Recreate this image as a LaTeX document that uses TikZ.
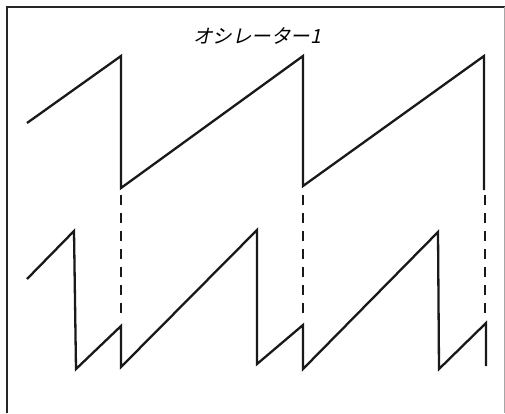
\documentclass[tikz,border=0pt]{standalone}
\usepackage{fontspec}
\newfontfamily\jpfont[FakeSlant=0.22]{Noto Sans CJK JP}
\begin{document}
\begin{tikzpicture}[x=1pt,y=-1pt,
  wave/.style={line width=2.3pt,line join=miter,black!90},
  frameline/.style={line width=2.5pt,black!85},
  guide/.style={line width=2.3pt,black!90,dash pattern=on 10pt off 8pt}]
\useasboundingbox (0,0) rectangle (505,413);
\fill[white] (0,0) rectangle (505,413);
% frame
\draw[frameline] (7,413) -- (7,7) -- (505,7);
\draw[black!35,line width=0.8pt] (504,7) -- (504,413);
% title
\node (title) at (257,36) {\jpfont\fontsize{19.5}{22}\selectfont オシレーター1};
% upper sawtooth
\draw[wave] (27,123) -- (121,56) -- (121,188) -- (303,56) -- (303,186) -- (484,56) -- (484,190);
% lower wave
\draw[wave] (27,279) -- (74,231) -- (76,369) -- (121,326) -- (121,367)
  -- (257,230) -- (257,364) -- (303,325) -- (303,369) -- (438,232)
  -- (439,369) -- (486,323) -- (486,366);
% dashed guides
\draw[guide] (121,195) -- (121,320);
\draw[guide] (303,195) -- (303,320);
\draw[guide] (485,195) -- (485,318);
\end{tikzpicture}
\end{document}
